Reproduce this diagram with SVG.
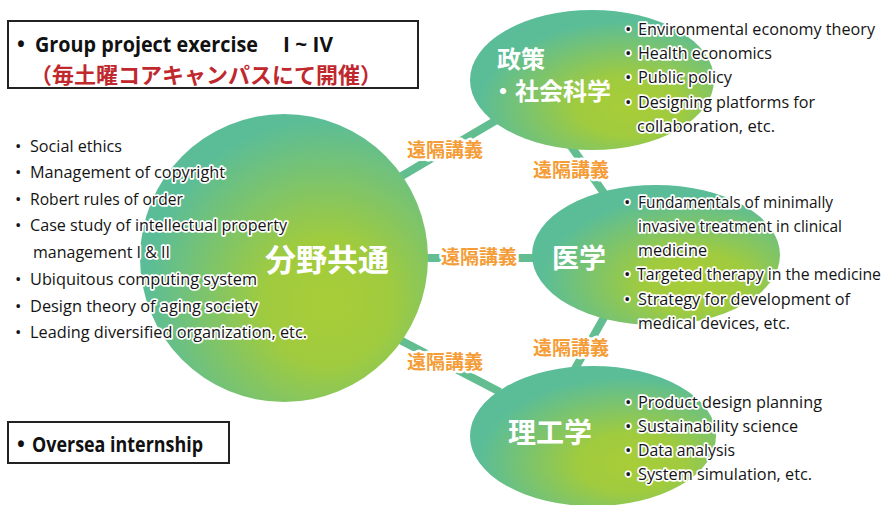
<svg xmlns="http://www.w3.org/2000/svg" width="891" height="505" viewBox="0 0 891 505">
<defs>
<style>
.li{font-family:"Open Sans","Noto Sans",sans-serif;font-size:17px;font-weight:500;fill:#141414;stroke:#fff;stroke-width:3.5px;stroke-linejoin:round;paint-order:stroke;}
.ri{font-family:"Open Sans","Noto Sans",sans-serif;font-size:17px;font-weight:500;fill:#141414;stroke:#fff;stroke-width:3.5px;stroke-linejoin:round;paint-order:stroke;}
.bul{font-family:"Open Sans","Noto Sans",sans-serif;font-size:17px;fill:#141414;stroke:#fff;stroke-width:3.5px;paint-order:stroke;}
.lbl{font-family:"Noto Sans CJK JP",sans-serif;font-weight:700;font-size:19px;fill:#f49c36;stroke:#fff;stroke-width:5px;stroke-linejoin:round;paint-order:stroke;text-anchor:middle;}
.nd{font-family:"Noto Sans CJK JP",sans-serif;font-weight:700;fill:#fff;}
.conn{stroke:#62be91;stroke-width:8;fill:none;}
.box{fill:#fff;stroke:#222;stroke-width:2;}
.bx{font-family:"Open Sans","Noto Sans",sans-serif;font-weight:700;font-size:21px;fill:#111;}
.red{font-family:"Noto Sans CJK JP",sans-serif;font-weight:700;font-size:22px;fill:#c0282e;}
</style>
<radialGradient id="gC" cx="0.64" cy="0.64" r="0.62" fx="0.66" fy="0.66">
<stop offset="0" stop-color="#a8cd38"/>
<stop offset="0.35" stop-color="#a0cb3e"/>
<stop offset="1" stop-color="#5bbd97"/>
</radialGradient>
<radialGradient id="gE" cx="0.64" cy="0.68" r="0.6" fx="0.66" fy="0.7">
<stop offset="0" stop-color="#a8cd38"/>
<stop offset="0.35" stop-color="#a0cb3e"/>
<stop offset="1" stop-color="#5bbd97"/>
</radialGradient>
</defs>
<rect width="891" height="505" fill="#fff"/>

<g id="connectors">
<line class="conn" x1="400" y1="177" x2="500" y2="118"/>
<line class="conn" x1="425" y1="258" x2="536" y2="258"/>
<line class="conn" x1="400" y1="340" x2="500" y2="392"/>
<line class="conn" x1="568" y1="142" x2="606" y2="196"/>
<line class="conn" x1="606" y1="314" x2="572" y2="374"/>
<text class="lbl" x="445" y="157">遠隔講義</text>
<text class="lbl" x="479" y="264">遠隔講義</text>
<text class="lbl" x="445" y="369">遠隔講義</text>
<text class="lbl" x="571" y="177">遠隔講義</text>
<text class="lbl" x="571" y="355">遠隔講義</text>
</g>

<g id="common">
<circle cx="284" cy="258" r="144" fill="url(#gC)"/>
<text class="nd" x="265" y="271" font-size="31">分野共通</text>
</g>

<g id="policy">
<ellipse cx="592" cy="80" rx="122" ry="70" fill="url(#gE)"/>
<text class="nd" x="497" y="68" font-size="24">政策</text>
<text class="nd" x="491" y="100" font-size="24">・社会科学</text>
</g>

<g id="medicine">
<ellipse cx="656" cy="255" rx="124" ry="70" fill="url(#gE)"/>
<text class="nd" x="552" y="268" font-size="27">医学</text>
</g>

<g id="engineering">
<ellipse cx="593" cy="436" rx="123" ry="70" fill="url(#gE)"/>
<text class="nd" x="508" y="443" font-size="28">理工学</text>
</g>

<g id="common-list">
<text class="bul" x="15" y="152">•</text><text class="li" x="30" y="152" textLength="92" lengthAdjust="spacingAndGlyphs">Social ethics</text>
<text class="bul" x="15" y="178">•</text><text class="li" x="30" y="178" textLength="195" lengthAdjust="spacingAndGlyphs">Management of copyright</text>
<text class="bul" x="15" y="205">•</text><text class="li" x="30" y="205" textLength="153" lengthAdjust="spacingAndGlyphs">Robert rules of order</text>
<text class="bul" x="15" y="231">•</text><text class="li" x="30" y="231" textLength="257" lengthAdjust="spacingAndGlyphs">Case study of intellectual property</text>
<text class="li" x="33" y="258" textLength="137" lengthAdjust="spacingAndGlyphs">management I &amp; II</text>
<text class="bul" x="15" y="285">•</text><text class="li" x="30" y="285" textLength="227" lengthAdjust="spacingAndGlyphs">Ubiquitous computing system</text>
<text class="bul" x="15" y="312">•</text><text class="li" x="30" y="312" textLength="228" lengthAdjust="spacingAndGlyphs">Design theory of aging society</text>
<text class="bul" x="15" y="338">•</text><text class="li" x="30" y="338" textLength="277" lengthAdjust="spacingAndGlyphs">Leading diversified organization, etc.</text>
</g>

<g id="policy-list">
<text class="bul" x="625" y="35">•</text><text class="ri" x="638" y="35" textLength="237" lengthAdjust="spacingAndGlyphs">Environmental economy theory</text>
<text class="bul" x="625" y="59">•</text><text class="ri" x="638" y="59" textLength="134" lengthAdjust="spacingAndGlyphs">Health economics</text>
<text class="bul" x="625" y="83">•</text><text class="ri" x="638" y="83" textLength="94" lengthAdjust="spacingAndGlyphs">Public policy</text>
<text class="bul" x="625" y="108">•</text><text class="ri" x="638" y="108" textLength="177" lengthAdjust="spacingAndGlyphs">Designing platforms for</text>
<text class="ri" x="637" y="132" textLength="138" lengthAdjust="spacingAndGlyphs">collaboration,  etc.</text>
</g>

<g id="medicine-list">
<text class="bul" x="624" y="208">•</text><text class="ri" x="638" y="208" textLength="195" lengthAdjust="spacingAndGlyphs">Fundamentals of minimally</text>
<text class="ri" x="638" y="232" textLength="204" lengthAdjust="spacingAndGlyphs">invasive treatment in clinical</text>
<text class="ri" x="638" y="256" textLength="69" lengthAdjust="spacingAndGlyphs">medicine</text>
<text class="bul" x="624" y="280">•</text><text class="ri" x="637" y="280" textLength="244" lengthAdjust="spacingAndGlyphs">Targeted therapy in the medicine</text>
<text class="bul" x="624" y="305">•</text><text class="ri" x="638" y="305" textLength="212" lengthAdjust="spacingAndGlyphs">Strategy for development of</text>
<text class="ri" x="638" y="329" textLength="152" lengthAdjust="spacingAndGlyphs">medical devices, etc.</text>
</g>

<g id="engineering-list">
<text class="bul" x="625" y="408">•</text><text class="ri" x="638" y="408" textLength="184" lengthAdjust="spacingAndGlyphs">Product design planning</text>
<text class="bul" x="625" y="432">•</text><text class="ri" x="638" y="432" textLength="160" lengthAdjust="spacingAndGlyphs">Sustainability science</text>
<text class="bul" x="625" y="456">•</text><text class="ri" x="638" y="456" textLength="97" lengthAdjust="spacingAndGlyphs">Data analysis</text>
<text class="bul" x="625" y="480">•</text><text class="ri" x="638" y="480" textLength="174" lengthAdjust="spacingAndGlyphs">System simulation, etc.</text>
</g>

<g id="group-project">
<rect class="box" x="8" y="21" width="410" height="67"/>
<text class="bx" x="17" y="52">•</text>
<text class="bx" x="35" y="52" textLength="223" lengthAdjust="spacingAndGlyphs">Group project exercise</text>
<text class="bx" x="283" y="52" textLength="50" lengthAdjust="spacingAndGlyphs">I ~ IV</text>
<text class="red" x="30" y="83">（毎土曜コアキャンパスにて開催）</text>
</g>

<g id="internship">
<rect class="box" x="8" y="422" width="221" height="41"/>
<text class="bx" x="17" y="452">•</text>
<text class="bx" x="32" y="452" textLength="171" lengthAdjust="spacingAndGlyphs">Oversea internship</text>
</g>
</svg>
